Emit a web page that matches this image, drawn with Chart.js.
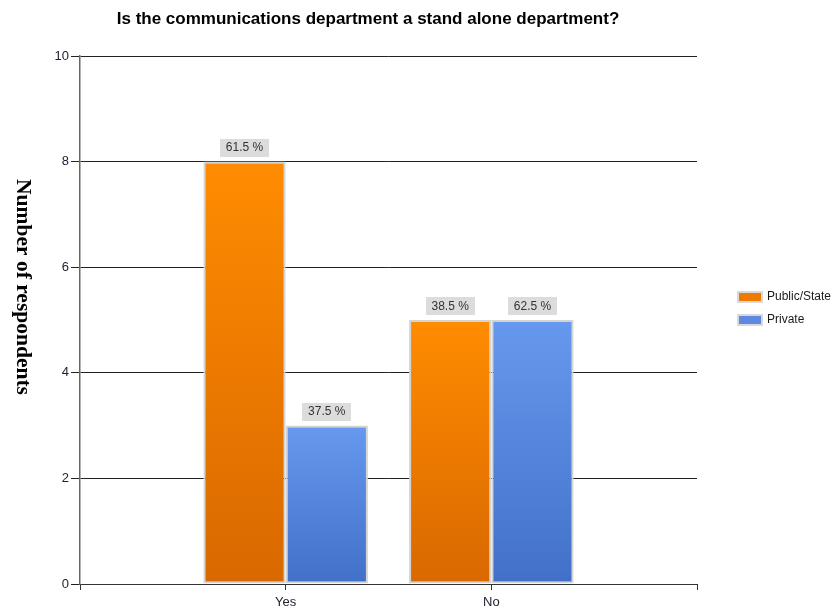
<!DOCTYPE html>
<html>
<head>
<meta charset="utf-8">
<script src="https://cdn.jsdelivr.net/npm/chart.js@4.4.1/dist/chart.umd.min.js"></script>
<style>
  html, body { margin: 0; padding: 0; background: #ffffff; }
  #wrap { width: 831px; height: 608px; position: relative; }
</style>
</head>
<body>
<div id="wrap"><canvas id="chart"></canvas></div>
<script>
// Survey answers and respondent counts
const categories = ['Yes', 'No'];
const publicCounts = [8, 5];
const privateCounts = [3, 5];
const publicPct = [61.5, 38.5];
const privatePct = [37.5, 62.5];
const seriesNames = ['Public/State', 'Private'];
const yTicks = [0, 2, 4, 6, 8, 10];
const chartTitle = 'Is the communications department a stand alone department?';
const yTitle = 'Number of respondents';

// Empty slots either side so the two groups sit at 1/3 and 2/3 of the axis
const labels = [''].concat(categories, ['']);
const pad = arr => [null].concat(arr, [null]);

function barGradient(top, bottom) {
  return function (ctx) {
    const chart = ctx.chart;
    if (ctx.type !== 'data' || !chart.chartArea) return top;
    const v = ctx.raw;
    if (v == null) return top;
    const ys = chart.scales.y;
    const y0 = ys.getPixelForValue(v);
    const y1 = ys.getPixelForValue(0);
    const g = chart.ctx.createLinearGradient(0, y0, 0, y1);
    g.addColorStop(0, top);
    g.addColorStop(1, bottom);
    return g;
  };
}

const colors = [
  { top: '#ff8c00', bottom: '#d96800', swatch: '#f07a00' },
  { top: '#6699ee', bottom: '#4270c8', swatch: '#5d8ae0' }
];

// Title, rotated axis title, value boxes and legend
const decorations = {
  id: 'decorations',
  afterDatasetsDraw(chart) {
    const c = chart.ctx;
    c.save();

    c.fillStyle = '#000000';
    c.font = 'bold 17px "Liberation Sans", Arial, sans-serif';
    c.textAlign = 'center';
    c.textBaseline = 'middle';
    c.fillText(chartTitle, 368, 19);

    c.save();
    c.translate(23, 287);
    c.rotate(Math.PI / 2);
    c.font = 'bold 21.5px "Liberation Serif", "Times New Roman", serif';
    c.fillStyle = '#000000';
    c.fillText(yTitle, 0, 0);
    c.restore();

    const pcts = [publicPct, privatePct];
    c.font = '12px "Liberation Sans", Arial, sans-serif';
    chart.data.datasets.forEach((ds, di) => {
      const meta = chart.getDatasetMeta(di);
      meta.data.forEach((bar, i) => {
        if (ds.data[i] == null) return;
        const txt = pcts[di][i - 1].toFixed(1) + ' %';
        const w = c.measureText(txt).width + 12;
        const h = 18;
        const x = bar.x;
        const yb = bar.y - 5;
        c.fillStyle = '#dcdcdc';
        c.fillRect(Math.round(x - w / 2), Math.round(yb - h), Math.round(w), h);
        c.fillStyle = '#333333';
        c.textAlign = 'center';
        c.textBaseline = 'middle';
        c.fillText(txt, x, yb - h / 2 + 0.5);
      });
    });

    c.textAlign = 'left';
    c.textBaseline = 'middle';
    c.font = '12px "Liberation Sans", Arial, sans-serif';
    seriesNames.forEach((name, i) => {
      const y = 297 + i * 23;
      c.fillStyle = '#d9d9d9';
      c.fillRect(737, y - 6, 26, 12);
      c.fillStyle = colors[i].swatch;
      c.fillRect(739, y - 4, 22, 8);
      c.fillStyle = '#1a1a1a';
      c.fillText(name, 767, y);
    });
    c.restore();
  }
};

new Chart(document.getElementById('chart'), {
  type: 'bar',
  data: {
    labels: labels,
    datasets: [
      {
        label: seriesNames[0],
        data: pad(publicCounts),
        backgroundColor: barGradient(colors[0].top, colors[0].bottom),
        borderColor: '#d4d4d4',
        borderWidth: 2,
        borderSkipped: false,
        barPercentage: 1.0,
        categoryPercentage: 0.8
      },
      {
        label: seriesNames[1],
        data: pad(privateCounts),
        backgroundColor: barGradient(colors[1].top, colors[1].bottom),
        borderColor: '#d4d4d4',
        borderWidth: 2,
        borderSkipped: false,
        barPercentage: 1.0,
        categoryPercentage: 0.8
      }
    ]
  },
  options: {
    responsive: true,
    maintainAspectRatio: false,
    animation: false,
    layout: { padding: { top: 56, right: 134, bottom: 0, left: 30 } },
    plugins: {
      legend: { display: false },
      title: { display: false },
      tooltip: { enabled: false }
    },
    scales: {
      x: {
        type: 'category',
        offset: false,
        grid: {
          offset: false,
          drawOnChartArea: false,
          drawTicks: true,
          tickLength: 6,
          color: '#333333'
        },
        border: { display: true, color: '#333333', width: 1 },
        ticks: {
          color: '#222233',
          font: { family: '"Liberation Sans", Arial, sans-serif', size: 13 },
          padding: 5,
          maxRotation: 0,
          autoSkip: false
        },
        afterFit(scale) { scale.height = 24; }
      },
      y: {
        min: 0,
        max: 10,
        afterBuildTicks(scale) { scale.ticks = yTicks.map(v => ({ value: v })); },
        grid: {
          color: '#222222',
          lineWidth: 1,
          tickLength: 9,
          drawTicks: true
        },
        border: { display: true, color: '#666666', width: 1.5 },
        ticks: {
          color: '#222233',
          font: { family: '"Liberation Sans", Arial, sans-serif', size: 13 },
          padding: 2
        },
        afterFit(scale) { scale.width = 50; }
      }
    }
  },
  plugins: [decorations]
});
</script>
</body>
</html>
